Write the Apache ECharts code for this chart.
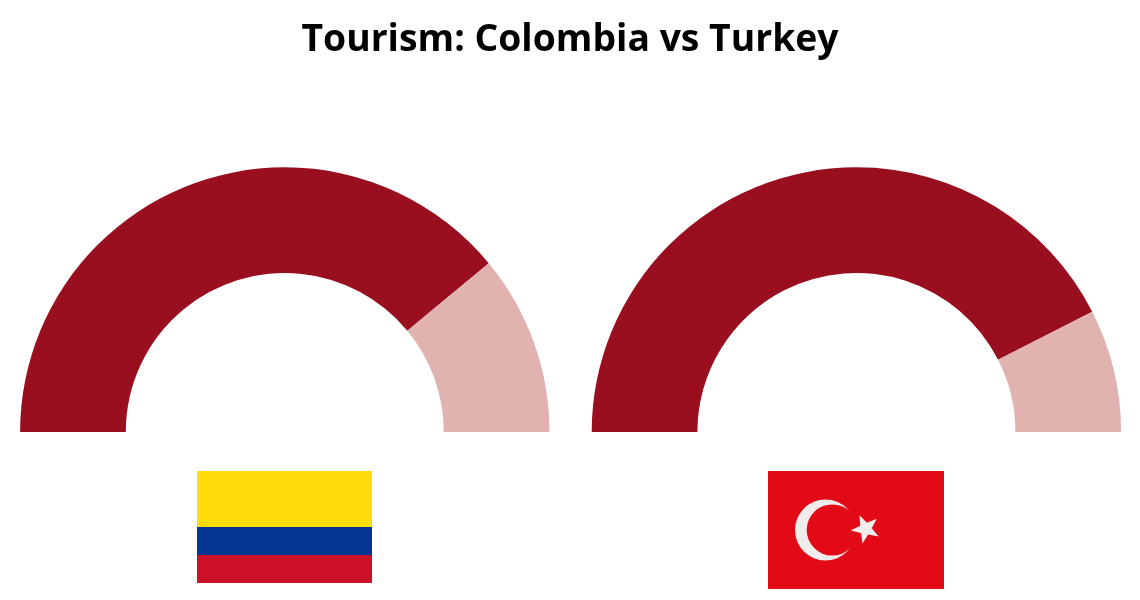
<!DOCTYPE html>
<html>
<head>
<meta charset="utf-8">
<style>html,body{margin:0;padding:0;background:#fff}#c{width:1140px;height:600px}</style>
<script src="https://cdn.jsdelivr.net/npm/echarts@6/dist/echarts.min.js"></script>
</head>
<body>
<div id="c"></div>
<script>
const titleText = 'Tourism: Colombia vs Turkey';
const categories = ['Share', 'Remainder'];
const colombiaValues = [78, 22];
const turkeyValues = [85, 15];
const sliceColors = ['#990f1f', '#e0b3b1'];

function toData(values) {
  return categories.map((name, i) => ({ name, value: values[i], itemStyle: { color: sliceColors[i] } }));
}
function gauge(name, values, cx) {
  return {
    type: 'pie', name, center: [cx, 432], radius: [159, 264.7],
    startAngle: 180, endAngle: 0, label: { show: false }, labelLine: { show: false },
    silent: true, animation: false, data: toData(values)
  };
}
function starPoints(cx, cy, R, r, rot) {
  const pts = [];
  for (let i = 0; i < 10; i++) {
    const a = rot + i * Math.PI / 5, d = i % 2 ? r : R;
    pts.push([cx + d * Math.cos(a), cy + d * Math.sin(a)]);
  }
  return pts;
}
const rect = (x, y, width, height, fill) => ({ type: 'rect', shape: { x, y, width, height }, style: { fill }, silent: true });
const circle = (cx, cy, r, fill) => ({ type: 'circle', shape: { cx, cy, r }, style: { fill }, silent: true });

const chart = echarts.init(document.getElementById('c'), null, { renderer: 'canvas' });
chart.setOption({
  animation: false,
  backgroundColor: '#fff',
  title: {
    text: titleText, left: 'center', top: 11,
    textStyle: { fontFamily: '"Open Sans"', fontWeight: 700, fontSize: 37.3, color: '#000', lineHeight: 48 }
  },
  series: [gauge('Colombia', colombiaValues, 284.8), gauge('Turkey', turkeyValues, 856.4)],
  graphic: [
    rect(197, 471, 175, 56, '#fedd0a'),
    rect(197, 527, 175, 28, '#023594'),
    rect(197, 555, 175, 28, '#cc1126'),
    rect(768, 471, 176, 118, '#e30a17'),
    circle(825.5, 530, 30.5, '#f1ecec'),
    circle(832.3, 530, 25.6, '#e30a17'),
    { type: 'polygon', shape: { points: starPoints(865.6, 528.9, 15, 6.2, 174 * Math.PI / 180) }, style: { fill: '#f1ecec' }, silent: true }
  ]
});
</script>
</body>
</html>
